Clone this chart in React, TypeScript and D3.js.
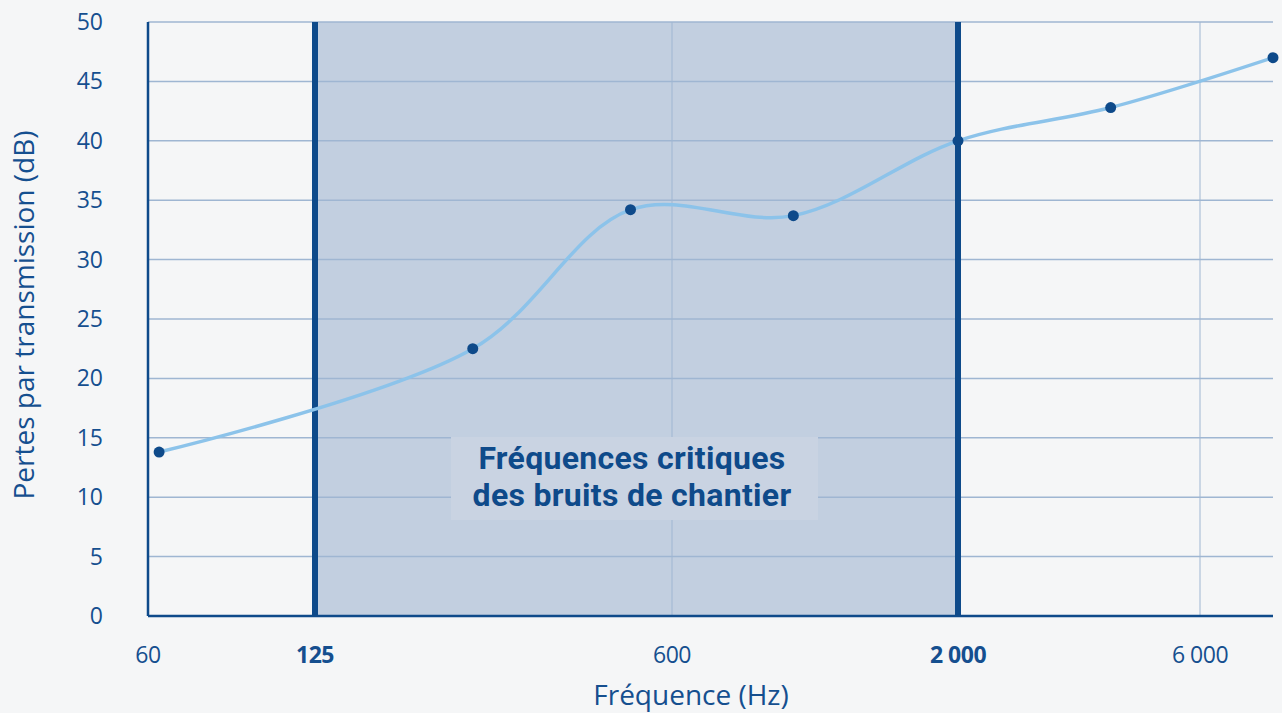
import { useEffect, useRef } from 'react';
import * as d3 from 'd3';

// measured octave bands (Hz) and transmission loss (dB)
const frequencies = [63, 250, 500, 1000, 2000, 4000, 8000];
const losses = [13.8, 22.5, 34.2, 33.7, 40, 42.8, 47];

const xTicks = [60, 125, 600, 2000, 6000];
const xTickLabels = ['60', '125', '600', '2 000', '6 000'];
const boldTicks = [125, 2000];
const yTicks = [0, 5, 10, 15, 20, 25, 30, 35, 40, 45, 50];
const criticalBand = [125, 2000];
const bandLabel = ['Fréquences critiques', 'des bruits de chantier'];

const W = 1282;
const H = 713;
const DARK = '#0e4a8a';
const TEXT = '#154f8f';

export default function App() {
  const svgRef = useRef<SVGSVGElement>(null);

  useEffect(() => {
    if (!svgRef.current) return;
    const svg = d3.select(svgRef.current);
    svg.selectAll('*').remove();

    // the source axis is only roughly logarithmic, so the log scale is piecewise
    const x = d3
      .scaleLog()
      .domain([60, 125, 600, 2000, 6000, 8000])
      .range([148, 315, 672, 958, 1200, 1273]);
    const y = d3.scaleLinear().domain([0, 50]).range([616, 22]);

    svg.append('rect').attr('width', W).attr('height', H).attr('fill', '#f5f6f7');

    // critical band shading
    svg
      .append('rect')
      .attr('x', x(criticalBand[0]))
      .attr('y', y(50))
      .attr('width', x(criticalBand[1]) - x(criticalBand[0]))
      .attr('height', y(0) - y(50))
      .attr('fill', '#c2cfe0');

    // horizontal grid
    svg
      .append('g')
      .selectAll('line')
      .data(yTicks.filter(d => d > 0))
      .join('line')
      .attr('x1', x(60))
      .attr('x2', x(8000))
      .attr('y1', d => y(d))
      .attr('y2', d => y(d))
      .attr('stroke', '#9fb6d2')
      .attr('stroke-width', 1.5);

    // vertical grid (thin)
    svg
      .append('g')
      .selectAll('line')
      .data(xTicks.filter(d => d !== 60 && !boldTicks.includes(d)))
      .join('line')
      .attr('x1', d => x(d))
      .attr('x2', d => x(d))
      .attr('y1', y(50))
      .attr('y2', y(0))
      .attr('stroke', '#9fb6d2')
      .attr('stroke-width', 1);

    // band label
    const lx = 632;
    svg
      .append('rect')
      .attr('x', 451)
      .attr('y', 437)
      .attr('width', 367)
      .attr('height', 83)
      .attr('fill', '#c9d3e2');
    svg
      .append('text')
      .attr('font-family', 'Roboto')
      .attr('font-weight', 700)
      .attr('font-size', 32)
      .attr('letter-spacing', 0.3)
      .attr('fill', DARK)
      .attr('text-anchor', 'middle')
      .selectAll('tspan')
      .data(bandLabel)
      .join('tspan')
      .attr('x', lx)
      .attr('y', (_, i) => 469 + i * 37)
      .text(d => d);

    // axes
    svg
      .append('line')
      .attr('x1', x(60))
      .attr('x2', x(60))
      .attr('y1', y(50))
      .attr('y2', y(0))
      .attr('stroke', DARK)
      .attr('stroke-width', 2.5);
    svg
      .append('line')
      .attr('x1', x(60))
      .attr('x2', x(8000))
      .attr('y1', y(0))
      .attr('y2', y(0))
      .attr('stroke', DARK)
      .attr('stroke-width', 2.5);

    // thick band bounds
    svg
      .append('g')
      .selectAll('line')
      .data(boldTicks)
      .join('line')
      .attr('x1', d => x(d))
      .attr('x2', d => x(d))
      .attr('y1', y(50))
      .attr('y2', y(0) + 1)
      .attr('stroke', DARK)
      .attr('stroke-width', 6);

    // curve
    const pts = frequencies.map((f, i) => ({ f, v: losses[i] }));
    const line = d3
      .line<{ f: number; v: number }>()
      .x(d => x(d.f))
      .y(d => y(d.v))
      .curve(d3.curveCatmullRom.alpha(0.5));
    svg
      .append('path')
      .datum(pts)
      .attr('d', line)
      .attr('fill', 'none')
      .attr('stroke', '#8cc3ea')
      .attr('stroke-width', 3.5);

    svg
      .append('g')
      .selectAll('circle')
      .data(pts)
      .join('circle')
      .attr('cx', d => x(d.f))
      .attr('cy', d => y(d.v))
      .attr('r', 5.5)
      .attr('fill', DARK);

    // y tick labels
    svg
      .append('g')
      .selectAll('text')
      .data(yTicks)
      .join('text')
      .attr('x', 103)
      .attr('y', d => y(d))
      .attr('dy', '0.35em')
      .attr('text-anchor', 'end')
      .attr('font-family', 'Open Sans')
      .attr('font-size', 23)
      .attr('fill', TEXT)
      .text(d => d);

    // x tick labels
    svg
      .append('g')
      .selectAll('text')
      .data(xTicks)
      .join('text')
      .attr('x', d => x(d))
      .attr('y', 663)
      .attr('text-anchor', 'middle')
      .attr('font-family', 'Open Sans')
      .attr('font-size', 23)
      .attr('font-weight', d => (boldTicks.includes(d) ? 700 : 400))
      .attr('letter-spacing', -0.5)
      .attr('fill', TEXT)
      .text((_, i) => xTickLabels[i]);

    // axis titles
    svg
      .append('text')
      .attr('x', 691)
      .attr('y', 705)
      .attr('text-anchor', 'middle')
      .attr('font-family', 'Open Sans')
      .attr('font-size', 28)
      .attr('fill', TEXT)
      .text('Fréquence (Hz)');
    svg
      .append('text')
      .attr('transform', `translate(34,315) rotate(-90)`)
      .attr('text-anchor', 'middle')
      .attr('font-family', 'Open Sans')
      .attr('font-size', 28)
      .attr('fill', TEXT)
      .text('Pertes par transmission (dB)');
  }, []);

  return (
    <div style={{ position: 'fixed', left: 0, top: 0 }}>
      <svg ref={svgRef} width={W} height={H} style={{ display: 'block' }} />
    </div>
  );
}
